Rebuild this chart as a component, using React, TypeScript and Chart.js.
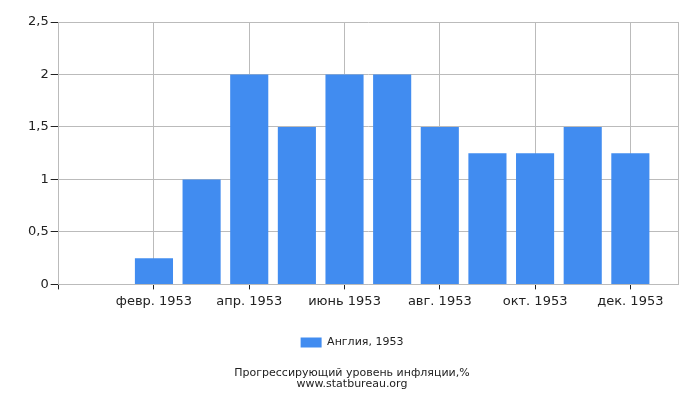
import { useEffect, useRef } from 'react';
import { Chart, registerables } from 'chart.js';

Chart.register(...registerables);

// Months of 1953, padded with an empty slot on each side
const monthLabels = [
  '',
  'янв. 1953',
  'февр. 1953',
  'март 1953',
  'апр. 1953',
  'май 1953',
  'июнь 1953',
  'июль 1953',
  'авг. 1953',
  'сент. 1953',
  'окт. 1953',
  'нояб. 1953',
  'дек. 1953',
  ''
];
const inflationValues = [null, 0, 0.25, 1, 2, 1.5, 2, 2, 1.5, 1.25, 1.25, 1.5, 1.25, null];
const seriesName = 'Англия, 1953';
const titleLines = ['Прогрессирующий уровень инфляции,%', 'www.statbureau.org'];

const FONT = '"DejaVu Sans", Verdana, sans-serif';
const GRID = '#bbbbbb';

export default function App() {
  const canvasRef = useRef<HTMLCanvasElement>(null);

  useEffect(() => {
    if (!canvasRef.current) return;
    const lastIndex = monthLabels.length - 1;

    const chart = new Chart(canvasRef.current, {
      type: 'bar',
      data: {
        labels: monthLabels,
        datasets: [{
          label: seriesName,
          data: inflationValues,
          backgroundColor: '#418cf0',
          borderWidth: 0,
          barPercentage: 1,
          categoryPercentage: 0.8
        }]
      },
      options: {
        animation: false,
        responsive: true,
        maintainAspectRatio: false,
        layout: {
          padding: { top: 22, right: 22, left: 26, bottom: 0 }
        },
        plugins: {
          tooltip: { enabled: false },
          legend: {
            position: 'bottom',
            labels: {
              color: '#222',
              boxWidth: 21,
              boxHeight: 10,
              padding: 12,
              font: { family: FONT, size: 11 }
            }
          },
          title: {
            display: true,
            position: 'bottom',
            text: titleLines,
            color: '#222',
            padding: { top: 10, bottom: 10 },
            font: { family: FONT, size: 11, weight: 'normal', lineHeight: 1 }
          }
        },
        scales: {
          x: {
            offset: false,
            afterFit: (scale) => {
              scale.height += 12;
            },
            grid: {
              offset: false,
              color: (ctx) => (ctx.index % 2 === 0 || ctx.index === lastIndex ? GRID : 'transparent'),
              tickColor: (ctx) => (ctx.index % 2 === 0 && ctx.index !== lastIndex ? '#222' : 'transparent'),
              tickLength: 5
            },
            border: { color: GRID },
            ticks: {
              autoSkip: false,
              maxRotation: 0,
              color: '#222',
              padding: 4,
              font: { family: FONT, size: 13 },
              callback: (_v, i) => (i % 2 === 0 ? monthLabels[i] : '')
            }
          },
          y: {
            min: 0,
            max: 2.5,
            grid: {
              color: GRID,
              tickColor: '#222',
              tickLength: 8
            },
            border: { color: GRID },
            ticks: {
              stepSize: 0.5,
              color: '#222',
              padding: 2,
              font: { family: FONT, size: 13 },
              callback: (v) => String(v).replace('.', ',')
            }
          }
        }
      }
    });

    return () => {
      chart.destroy();
    };
  }, []);

  return (
    <div style={{ position: 'fixed', left: 0, top: 0, width: 700, height: 400, background: '#fff' }}>
      <canvas ref={canvasRef}></canvas>
    </div>
  );
}
